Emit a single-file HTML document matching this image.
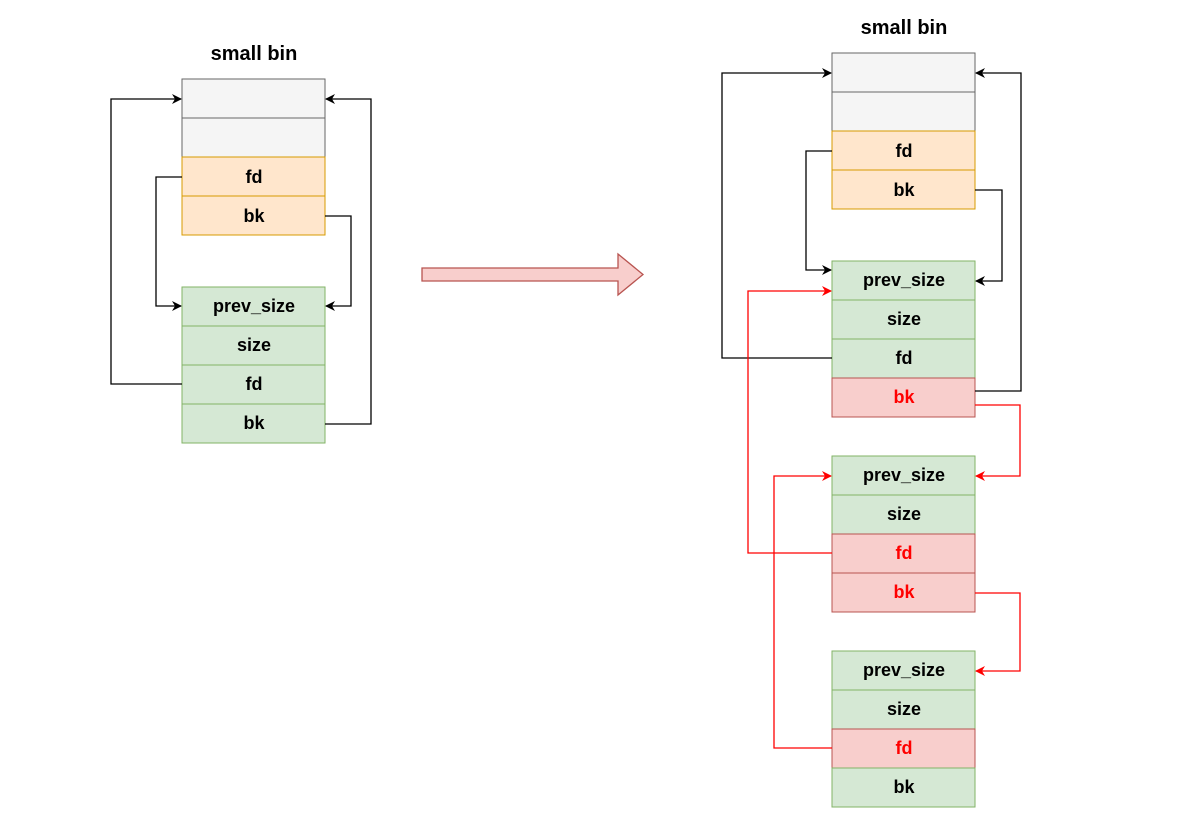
<!DOCTYPE html>
<html><head><meta charset="utf-8"><style>
html,body{margin:0;padding:0;background:#fff;}
svg{display:block;}
text{font-family:"Liberation Sans",sans-serif;font-weight:bold;font-size:18px;text-anchor:middle;dominant-baseline:central;}
text.t{font-size:20px;}
</style></head><body>
<svg width="1190" height="821" viewBox="0 0 1190 821" xmlns="http://www.w3.org/2000/svg">
<defs>
<marker id="ab" markerWidth="10" markerHeight="10" refX="9" refY="5" orient="auto" markerUnits="userSpaceOnUse"><path d="M0,0 L10,5 L0,10 L3,5 Z" fill="#000"/></marker>
<marker id="ar" markerWidth="10" markerHeight="10" refX="9" refY="5" orient="auto" markerUnits="userSpaceOnUse"><path d="M0,0 L10,5 L0,10 L3,5 Z" fill="#f00"/></marker>
</defs>
<text class="t" x="254" y="54">small bin</text>
<g stroke-width="1">
<rect x="182" y="79" width="143" height="39" fill="#f5f5f5" stroke="#666"/>
<rect x="182" y="118" width="143" height="39" fill="#f5f5f5" stroke="#666"/>
<rect x="182" y="157" width="143" height="39" fill="#ffe6cc" stroke="#d79b00"/>
<rect x="182" y="196" width="143" height="39" fill="#ffe6cc" stroke="#d79b00"/>
<rect x="182" y="287" width="143" height="39" fill="#d5e8d4" stroke="#82b366"/>
<rect x="182" y="326" width="143" height="39" fill="#d5e8d4" stroke="#82b366"/>
<rect x="182" y="365" width="143" height="39" fill="#d5e8d4" stroke="#82b366"/>
<rect x="182" y="404" width="143" height="39" fill="#d5e8d4" stroke="#82b366"/>
</g>
<text x="254" y="177">fd</text><text x="254" y="216">bk</text>
<text x="254" y="306">prev_size</text><text x="254" y="345">size</text><text x="254" y="384">fd</text><text x="254" y="423">bk</text>
<g fill="none" stroke="#000" stroke-width="1.3">
<path d="M182,384 H111 V99 H181" marker-end="url(#ab)"/>
<path d="M182,177 H156 V306 H181" marker-end="url(#ab)"/>
<path d="M325,216 H351 V306 H326" marker-end="url(#ab)"/>
<path d="M325,424 H371 V99 H326" marker-end="url(#ab)"/>
</g>
<path d="M422,268 H618 V254 L643,274.5 L618,295 V281 H422 Z" fill="#f8cecc" stroke="#b85450" stroke-width="1.3"/>
<text class="t" x="904" y="28">small bin</text>
<g stroke-width="1">
<rect x="832" y="53" width="143" height="39" fill="#f5f5f5" stroke="#666"/>
<rect x="832" y="92" width="143" height="39" fill="#f5f5f5" stroke="#666"/>
<rect x="832" y="131" width="143" height="39" fill="#ffe6cc" stroke="#d79b00"/>
<rect x="832" y="170" width="143" height="39" fill="#ffe6cc" stroke="#d79b00"/>
<rect x="832" y="261" width="143" height="39" fill="#d5e8d4" stroke="#82b366"/>
<rect x="832" y="300" width="143" height="39" fill="#d5e8d4" stroke="#82b366"/>
<rect x="832" y="339" width="143" height="39" fill="#d5e8d4" stroke="#82b366"/>
<rect x="832" y="378" width="143" height="39" fill="#f8cecc" stroke="#b85450"/>
<rect x="832" y="456" width="143" height="39" fill="#d5e8d4" stroke="#82b366"/>
<rect x="832" y="495" width="143" height="39" fill="#d5e8d4" stroke="#82b366"/>
<rect x="832" y="534" width="143" height="39" fill="#f8cecc" stroke="#b85450"/>
<rect x="832" y="573" width="143" height="39" fill="#f8cecc" stroke="#b85450"/>
<rect x="832" y="651" width="143" height="39" fill="#d5e8d4" stroke="#82b366"/>
<rect x="832" y="690" width="143" height="39" fill="#d5e8d4" stroke="#82b366"/>
<rect x="832" y="729" width="143" height="39" fill="#f8cecc" stroke="#b85450"/>
<rect x="832" y="768" width="143" height="39" fill="#d5e8d4" stroke="#82b366"/>
</g>
<text x="904" y="151">fd</text><text x="904" y="190">bk</text>
<text x="904" y="280">prev_size</text><text x="904" y="319">size</text><text x="904" y="358">fd</text><text x="904" y="397" fill="#f00">bk</text>
<text x="904" y="475">prev_size</text><text x="904" y="514">size</text><text x="904" y="553" fill="#f00">fd</text><text x="904" y="592" fill="#f00">bk</text>
<text x="904" y="670">prev_size</text><text x="904" y="709">size</text><text x="904" y="748" fill="#f00">fd</text><text x="904" y="787">bk</text>
<g fill="none" stroke="#000" stroke-width="1.3">
<path d="M832,358 H722 V73 H831" marker-end="url(#ab)"/>
<path d="M832,151 H806 V270 H831" marker-end="url(#ab)"/>
<path d="M975,190 H1002 V281 H976" marker-end="url(#ab)"/>
<path d="M975,391 H1021 V73 H976" marker-end="url(#ab)"/>
</g>
<g fill="none" stroke="#f00" stroke-width="1.3">
<path d="M975,405 H1020 V476 H976" marker-end="url(#ar)"/>
<path d="M832,553 H748 V291 H831" marker-end="url(#ar)"/>
<path d="M975,593 H1020 V671 H976" marker-end="url(#ar)"/>
<path d="M832,748 H774 V476 H831" marker-end="url(#ar)"/>
</g>
</svg>
</body></html>
